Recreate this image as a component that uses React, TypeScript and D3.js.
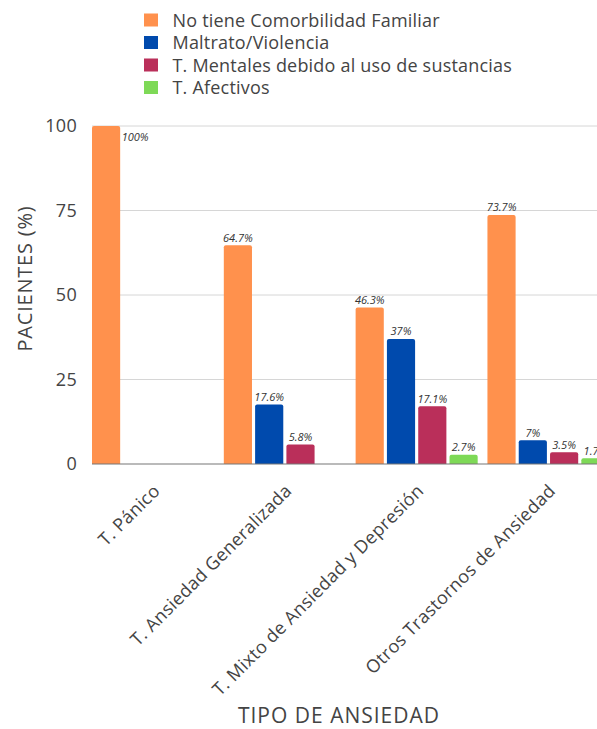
import React from "react";
import * as d3 from "d3";

const categories = [
  "T. Pánico",
  "T. Ansiedad Generalizada",
  "T. Mixto de Ansiedad y Depresión",
  "Otros Trastornos de Ansiedad",
];
const seriesNames = [
  "No tiene Comorbilidad Familiar",
  "Maltrato/Violencia",
  "T. Mentales debido al uso de sustancias",
  "T. Afectivos",
];
const seriesColors = ["#FF914D", "#004AAD", "#BA2F5A", "#7ED957"];
const noComorbilidad = [100, 64.7, 46.3, 73.7];
const maltrato = [null, 17.6, 37, 7];
const sustancias = [null, 5.8, 17.1, 3.5];
const afectivos = [null, null, 2.7, 1.7];
const valueLabels = [
  ["100%", "64.7%", "46.3%", "73.7%"],
  ["", "17.6%", "37%", "7%"],
  ["", "5.8%", "17.1%", "3.5%"],
  ["", "", "2.7%", "1.7%"],
];
const yTicks = [0, 25, 50, 75, 100];

const W = 597;
const H = 729;
const FONT = "'Open Sans', sans-serif";
const TXT = "#444";

export default function App() {
  const series = [noComorbilidad, maltrato, sustancias, afectivos];
  const y = d3.scaleLinear().domain([0, 100]).range([464, 126]);
  const x0 = d3.scaleBand<string>().domain(categories).range([92, 609.5]).paddingInner(0.074).paddingOuter(0);
  const x1 = d3
    .scaleBand<number>()
    .domain(d3.range(seriesNames.length))
    .range([0, x0.bandwidth()])
    .paddingInner(0.1)
    .paddingOuter(0);
  const bw = x1.bandwidth();
  const r = 2;

  const barPath = (x: number, top: number, w: number, bottom: number) => {
    const rr = Math.min(r, (bottom - top) / 2);
    return `M${x},${bottom}V${top + rr}Q${x},${top} ${x + rr},${top}H${x + w - rr}Q${x + w},${top} ${x + w},${top + rr}V${bottom}Z`;
  };

  return (
    <svg width={W} height={H} style={{ position: "absolute", left: 0, top: 0, background: "#fff" }} fontFamily={FONT}>
      {/* legend */}
      {seriesNames.map((name, i) => (
        <g key={name}>
          <rect x={144} y={13.5 + i * 22.5} width={14} height={13} fill={seriesColors[i]} />
          <text x={172.5} y={26.5 + i * 22.5} fontSize={18} letterSpacing={0.2} fill={TXT}>
            {name}
          </text>
        </g>
      ))}

      {/* gridlines */}
      {yTicks.map((t) => (
        <g key={t}>
          {t !== 0 && <line x1={92} x2={W} y1={y(t)} y2={y(t)} stroke="#d6d6d6" strokeWidth={1} />}
          <text x={77} y={y(t)} dy="0.35em" textAnchor="end" fontSize={18} letterSpacing={0.3} fill={TXT}>
            {t}
          </text>
        </g>
      ))}

      {/* bars */}
      {categories.map((c, ci) => (
        <g key={c} transform={`translate(${x0(c)},0)`}>
          {series.map((s, si) => {
            const v = s[ci];
            if (v == null) return null;
            const bx = x1(si) as number;
            const top = y(v);
            const label = valueLabels[si][ci];
            const atTop = v >= 95;
            return (
              <g key={si}>
                <path d={barPath(bx, top, bw, y(0))} fill={seriesColors[si]} />
                {label && (
                  <text
                    x={atTop ? bx + bw + 1.5 : bx + bw / 2}
                    y={atTop ? top + 15 : top - 3.5}
                    textAnchor={atTop ? "start" : "middle"}
                    fontSize={11}
                    fontStyle="italic"
                    fill="#333"
                  >
                    {label}
                  </text>
                )}
              </g>
            );
          })}
        </g>
      ))}

      {/* baseline */}
      <line x1={92} x2={W} y1={y(0)} y2={y(0)} stroke="#777" strokeWidth={1.2} />

      {/* x tick labels */}
      {categories.map((c) => {
        const cx = (x0(c) as number) + x0.bandwidth() / 2 + 8;
        const cy = 492;
        return (
          <text
            key={c}
            transform={`translate(${cx},${cy}) rotate(-45)`}
            textAnchor="end"
            fontSize={18}
            letterSpacing={0.3}
            fill={TXT}
          >
            {c}
          </text>
        );
      })}

      {/* axis titles */}
      <text x={339} y={723} textAnchor="middle" fontSize={21} letterSpacing={1} fill={TXT}>
        TIPO DE ANSIEDAD
      </text>
      <text transform={`translate(32,278.5) rotate(-90)`} textAnchor="middle" fontSize={20} letterSpacing={0.8} fill={TXT}>
        PACIENTES (%)
      </text>
    </svg>
  );
}
